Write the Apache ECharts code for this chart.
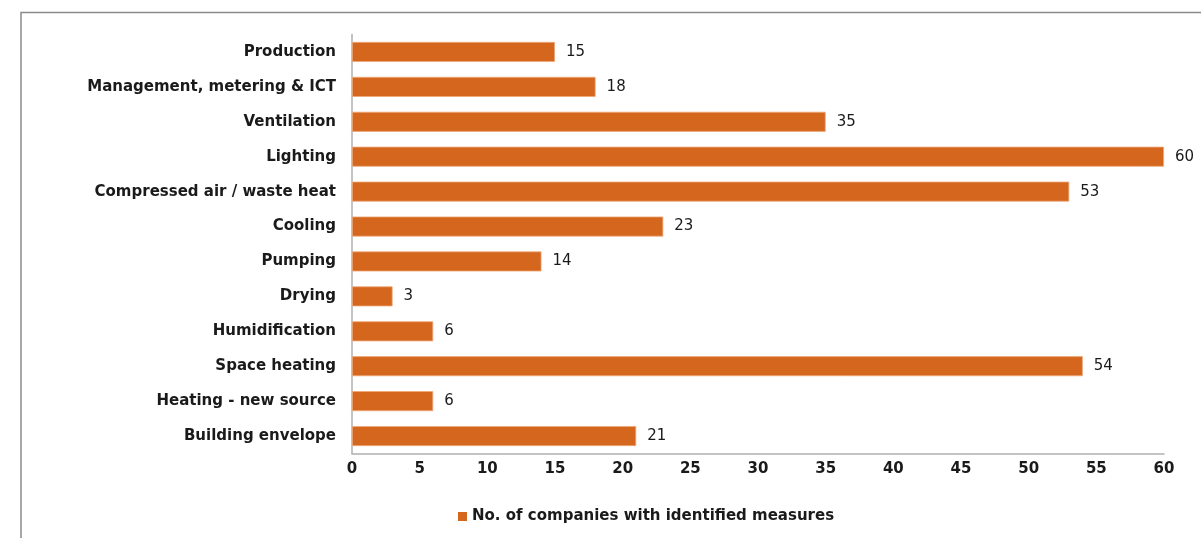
<!DOCTYPE html>
<html>
<head>
<meta charset="utf-8">
<script src="https://cdn.jsdelivr.net/npm/echarts@6/dist/echarts.min.js"></script>
<style>html,body{margin:0;padding:0;background:#fff}#c{width:1201px;height:538px}</style>
</head>
<body>
<div id="c"></div>
<script>
const categories = ["Production","Management, metering & ICT","Ventilation","Lighting","Compressed air / waste heat","Cooling","Pumping","Drying","Humidification","Space heating","Heating - new source","Building envelope"];
const values = [15,18,35,60,53,23,14,3,6,54,6,21];
const seriesName = "No. of companies with identified measures";

const chart = echarts.init(document.getElementById('c'));
chart.setOption({
  animation: false,
  textStyle: { fontFamily: 'DejaVu Sans, sans-serif' },
  graphic: [{
    type: 'rect',
    shape: { x: 21, y: 12.5, width: 1300, height: 700 },
    style: { fill: 'none', stroke: '#8a8a8a', lineWidth: 1.5 },
    silent: true
  }],
  grid: { left: 352, right: 37, top: 34.5, bottom: 84.5 },
  legend: {
    data: [seriesName],
    top: 504, left: 453,
    icon: 'rect', itemWidth: 9, itemHeight: 9, itemGap: 5,
    itemStyle: { borderWidth: 0 },
    textStyle: { fontSize: 15, fontWeight: 'bold', color: '#1a1a1a', fontFamily: 'DejaVu Sans, sans-serif' }
  },
  xAxis: {
    type: 'value', min: 0, max: 60, interval: 5,
    axisLine: { show: true, lineStyle: { color: '#b0b0b0', width: 1.5 } },
    axisTick: { show: false },
    splitLine: { show: false },
    axisLabel: { fontSize: 15, fontWeight: 'bold', color: '#1a1a1a', margin: 8 }
  },
  yAxis: {
    type: 'category', data: categories, inverse: true,
    axisLine: { show: true, lineStyle: { color: '#b0b0b0', width: 1.5 } },
    axisTick: { show: false },
    axisLabel: { fontSize: 15, fontWeight: 'bold', color: '#1a1a1a', margin: 16 }
  },
  series: [{
    name: seriesName, type: 'bar', data: values,
    barWidth: 20,
    itemStyle: { color: '#D4661E', borderColor: '#EFA878', borderWidth: 0.8 },
    label: { show: true, position: 'right', distance: 11, fontSize: 15, color: '#1a1a1a' }
  }]
});
</script>
</body>
</html>
